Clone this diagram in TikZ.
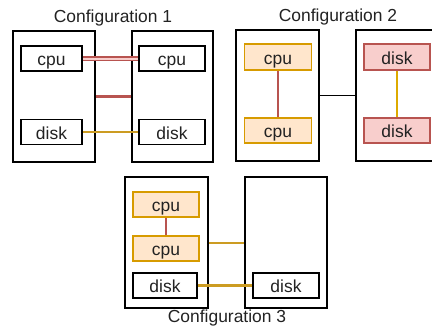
\documentclass[tikz,border=0pt]{standalone}
\usepackage{fontspec}
\setmainfont{Liberation Sans}
\definecolor{ostroke}{HTML}{D79B00}
\definecolor{ofill}{HTML}{FFE6CC}
\definecolor{rstroke}{HTML}{B85450}
\definecolor{rfill}{HTML}{F8CECC}
\definecolor{gold}{HTML}{CC9C22}
\definecolor{txt}{HTML}{222222}
\begin{document}
\begin{tikzpicture}[x=1bp,y=-1bp,
  every node/.style={font=\fontsize{17.5}{20}\selectfont, text=txt, inner sep=0pt},
  host/.style={draw=black, line width=1.5bp, minimum width=82bp, minimum height=131bp},
  comp/.style={draw=black, line width=1.5bp, minimum height=25bp, text height=15bp, text depth=1bp},
  ocomp/.style={comp, draw=ostroke, fill=ofill},
  rcomp/.style={comp, draw=rstroke, fill=rfill},
  title/.style={text height=12.5bp, text depth=3.5bp}]
\useasboundingbox (0,0) rectangle (432,328);
% Configuration 1
\node[title] (t1) at (113,18) {Configuration 1};
\node[host] (L1) at (54,96.5) {};
\node[host, minimum width=81bp] (R1) at (172.5,96.5) {};
\node[comp, minimum width=61bp] (cpuL1) at (51.5,58.5) {cpu};
\node[comp, minimum width=66bp] (cpuR1) at (172,58.5) {cpu};
\node[comp, minimum width=61bp] (diskL1) at (51.5,132) {disk};
\node[comp, minimum width=66bp] (diskR1) at (172,132) {disk};
\draw[draw=rstroke, line width=1.2bp, double=rfill, double distance=2bp] (cpuL1.east) -- (cpuR1.west);
\draw[draw=rstroke, line width=3.5bp] (L1.east) -- (R1.west);
\draw[draw=gold, line width=2bp] (diskL1.east) -- (diskR1.west);
% Configuration 2
\node[title] (t2) at (338,17) {Configuration 2};
\node[host, minimum width=83bp] (L2) at (277.5,95.5) {};
\node[host, minimum width=84bp] (R2) at (398,95.5) {};
\node[ocomp, minimum width=67bp, minimum height=26bp] (cpuA2) at (278,57) {cpu};
\node[ocomp, minimum width=67bp] (cpuB2) at (278,130.5) {cpu};
\node[rcomp, minimum width=66bp, minimum height=26bp] (diskA2) at (397,57) {disk};
\node[rcomp, minimum width=66bp] (diskB2) at (397,130.5) {disk};
\draw[draw=rstroke, line width=2bp] (cpuA2.south) -- (cpuB2.north);
\draw[draw=ostroke!85!yellow, line width=2bp] (diskA2.south) -- (diskB2.north);
\draw[draw=black, line width=1.6bp] (L2.east) -- (R2.west);
% Configuration 3
\node[title] (t3) at (227,318) {Configuration 3};
\node[host, minimum width=83bp] (L3) at (166.5,242.5) {};
\node[host, minimum width=82bp] (R3) at (286,242.5) {};
\node[ocomp, minimum width=66bp] (cpuA3) at (166,204.5) {cpu};
\node[ocomp, minimum width=66bp] (cpuB3) at (166,248.5) {cpu};
\node[comp, minimum width=64bp] (diskL3) at (165,285.5) {disk};
\node[comp, minimum width=66bp] (diskR3) at (286,285.5) {disk};
\draw[draw=rstroke, line width=1.8bp] (cpuA3.south) -- (cpuB3.north);
\draw[draw=gold, line width=2bp] (L3.east) -- (R3.west);
\draw[draw=gold, line width=2.2bp] (diskL3.east) -- (diskR3.west);
\end{tikzpicture}
\end{document}
